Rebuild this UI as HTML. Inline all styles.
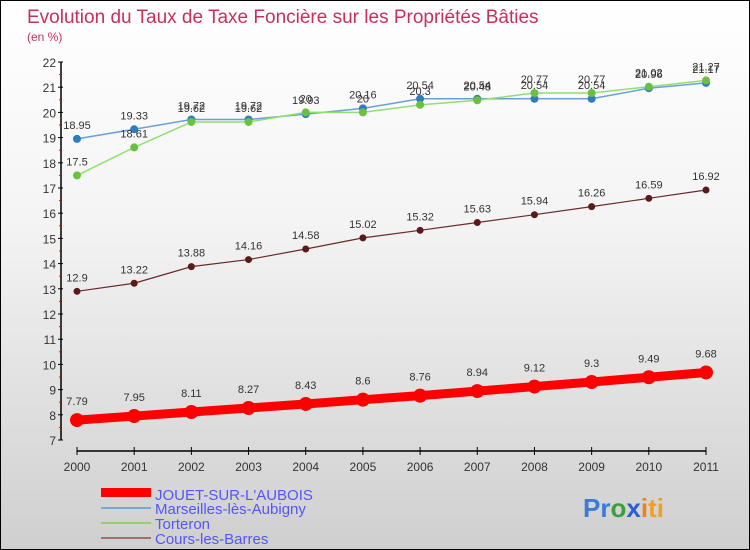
<!DOCTYPE html>
<html><head><meta charset="utf-8"><style>
body{margin:0}
#c{width:748px;height:548px;border:1px solid #000;background:linear-gradient(#fff 0%,#f4f4f4 40%,#cfcfcf 100%);position:relative;overflow:hidden;font-family:"Liberation Sans",sans-serif}
</style></head><body>
<div id="c">
<svg id="s" width="748" height="548" xmlns="http://www.w3.org/2000/svg" style="position:absolute;left:0;top:0">
<text x="26" y="22" font-size="19" fill="#c8305a">Evolution du Taux de Taxe Foncière sur les Propriétés Bâties</text>
<text x="26" y="40" font-size="12" fill="#c8305a">(en %)</text>
<g id="ax"></g><g id="ser"></g>
<g>
<rect x="100" y="487" width="50" height="9" fill="#f00"/>
<text x="154" y="499" font-size="15" fill="#5555ff">JOUET-SUR-L'AUBOIS</text>
<rect x="100" y="506" width="50" height="2" fill="#7aa8d0"/>
<text x="154" y="513" font-size="15" fill="#5555ff">Marseilles-lès-Aubigny</text>
<rect x="100" y="521" width="50" height="2" fill="#90d070"/>
<text x="154" y="528" font-size="15" fill="#5555ff">Torteron</text>
<rect x="100" y="536" width="50" height="2" fill="#a07070"/>
<text x="154" y="543" font-size="15" fill="#5555ff">Cours-les-Barres</text>
</g>
<text x="582" y="516" font-size="26" font-weight="bold"><tspan fill="#3a7bd5">Pr</tspan><tspan fill="#3aa040">o</tspan><tspan fill="#2a5fcf">x</tspan><tspan fill="#f08020">i</tspan><tspan fill="#f0a020">ti</tspan></text>
</svg></div>
<script>
const years=[2000,2001,2002,2003,2004,2005,2006,2007,2008,2009,2010,2011];
const jouet=[7.79,7.95,8.11,8.27,8.43,8.6,8.76,8.94,9.12,9.3,9.49,9.68];
const marseilles=[18.95,19.33,19.72,19.72,19.93,20.16,20.54,20.54,20.54,20.54,20.96,21.17];
const torteron=[17.5,18.61,19.62,19.62,20,20,20.3,20.48,20.77,20.77,21.02,21.27];
const cours=[12.9,13.22,13.88,14.16,14.58,15.02,15.32,15.63,15.94,16.26,16.59,16.92];
const yTicks=[7,8,9,10,11,12,13,14,15,16,17,18,19,20,21,22];
const NS="http://www.w3.org/2000/svg";
const X=i=>76+i*(629/11), Y=v=>439-(v-7)*25.2;
function mk(t,a,p){const e=document.createElementNS(NS,t);for(const k in a)e.setAttribute(k,a[k]);p.appendChild(e);return e;}
const ax=document.getElementById('ax');
let l=mk('line',{x1:60,y1:Y(22),x2:60,y2:Y(7),stroke:'#000','stroke-width':1.5},ax);


yTicks.forEach(v=>{
 mk('line',{x1:57,y1:Y(v),x2:62,y2:Y(v),stroke:'#000'},ax);
 if(v<22)mk('line',{x1:58,y1:Y(v+0.5),x2:60,y2:Y(v+0.5),stroke:'#e00'},ax);
 const t=mk('text',{x:55,y:Y(v)+5,'font-size':12,'text-anchor':'end',fill:'#333'},ax);t.textContent=v;
 
 
});
l=mk('line',{x1:X(0),y1:450,x2:X(11),y2:450,stroke:'#000','stroke-width':1.5},ax);


years.forEach((y,i)=>{
 mk('line',{x1:X(i),y1:446,x2:X(i),y2:454,stroke:'#000'},ax);
 const t=mk('text',{x:X(i),y:470,'font-size':12,'text-anchor':'middle',fill:'#333'},ax);t.textContent=y;
 
 
});
const ser=document.getElementById('ser');
function draw(vals,name,col,dot,w,r,off){
 const g=mk('g',{},ser);
 
 
 const p=mk('polyline',{points:vals.map((v,i)=>X(i)+','+Y(v)).join(' '),fill:'none',stroke:col,'stroke-width':w},g);
 
 
 vals.forEach((v,i)=>{
  const c=mk('circle',{cx:X(i),cy:Y(v),r:r,fill:dot},g);
  
  
  const t=mk('text',{x:X(i),y:Y(v)-off,'font-size':11,'text-anchor':'middle',fill:'#333'},g);t.textContent=v;
  
  
 });
}
draw(cours,'cours','#6a2a2a','#5a1a1a',1.2,3.5,10);
draw(marseilles,'marseilles','#6aa0d8','#2f7cc0',1.5,4,10);
draw(torteron,'torteron','#90e070','#6cc040',1.5,4,10);
draw(jouet,'jouet','#f00','#f00',9,7,15);
</script>
</body></html>
